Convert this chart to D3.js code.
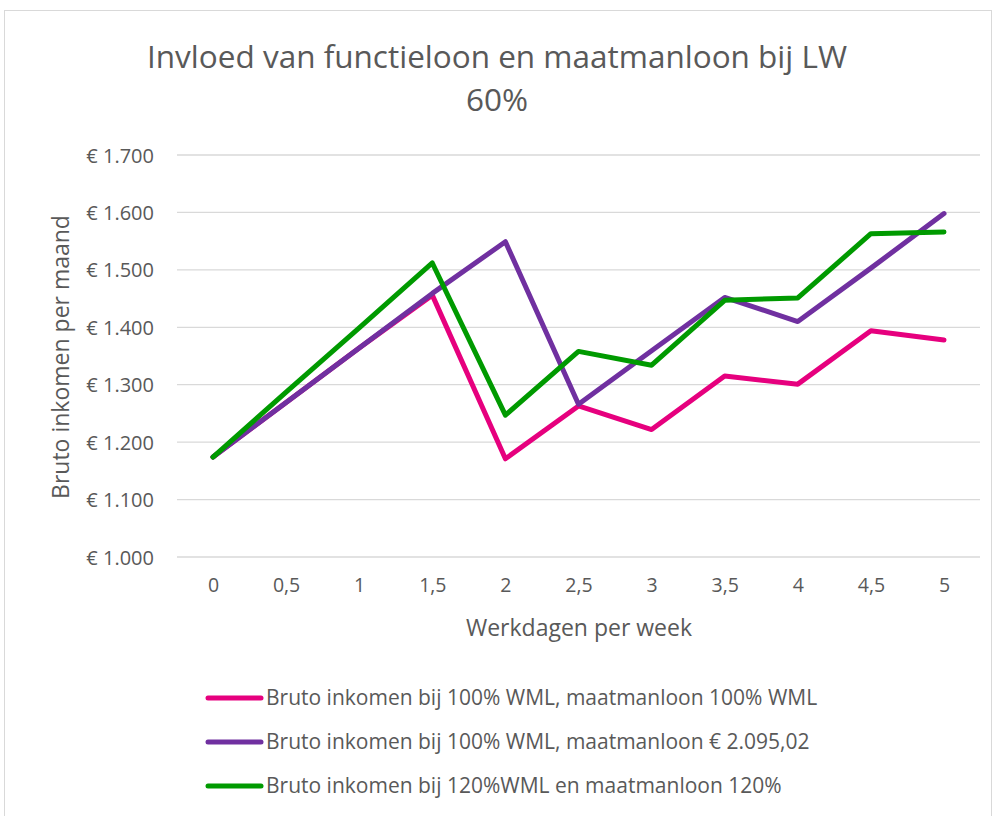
<!DOCTYPE html>
<html>
<head>
<meta charset="utf-8">
<script src="https://cdn.jsdelivr.net/npm/d3@7"></script>
<style>
  body { margin: 0; background: #fff; }
  svg text { font-family: "Open Sans", "Liberation Sans", sans-serif; }
  .grid line { stroke: #d9d9d9; stroke-width: 1.3; }
  .tick text { fill: #595959; }
</style>
</head>
<body>
<svg width="995" height="816"></svg>
<script>
var days = ["0", "0,5", "1", "1,5", "2", "2,5", "3", "3,5", "4", "4,5", "5"];
var pinkValues = [1174, 1269, 1364, 1456, 1171, 1263, 1222, 1315, 1301, 1394, 1378];
var purpleValues = [1174, 1269, 1364, 1459, 1549, 1266, 1359, 1452, 1410, 1503, 1598];
var greenValues = [1174, 1287, 1399, 1512, 1247, 1358, 1334, 1447, 1451, 1563, 1566];
var seriesNames = [
  "Bruto inkomen bij 100% WML, maatmanloon 100% WML",
  "Bruto inkomen bij 100% WML, maatmanloon € 2.095,02",
  "Bruto inkomen bij 120%WML en maatmanloon 120%"
];
var colors = ["#e6007e", "#7030a0", "#009a00"];
var yTicks = [1000, 1100, 1200, 1300, 1400, 1500, 1600, 1700];

var series = [pinkValues, purpleValues, greenValues].map(function(v, i) {
  return { name: seriesNames[i], color: colors[i], values: v };
});

var svg = d3.select("svg");

// chart frame
svg.append("rect")
  .attr("x", 4.5).attr("y", 10.5)
  .attr("width", 987).attr("height", 820)
  .attr("fill", "#fff").attr("stroke", "#d9d9d9");

var x = d3.scalePoint()
  .domain(days)
  .range([213, 944]);

var y = d3.scaleLinear()
  .domain([1000, 1700])
  .range([557, 155]);

var fmt = function(d) { return "€ " + d3.format(",")(d).replace(",", "."); };

// gridlines
svg.append("g")
  .attr("class", "grid")
  .selectAll("line")
  .data(yTicks)
  .enter().append("line")
  .attr("x1", 177).attr("x2", 980)
  .attr("y1", function(d) { return y(d); })
  .attr("y2", function(d) { return y(d); });

// y axis
var yAxis = svg.append("g")
  .attr("transform", "translate(160,0)")
  .call(d3.axisLeft(y).tickValues(yTicks).tickFormat(fmt).tickSize(0).tickPadding(0));
yAxis.select(".domain").remove();
yAxis.selectAll("text").style("font-size", "20px").attr("dy", "0.35em").attr("x", -6);

// x axis
var xAxis = svg.append("g")
  .attr("transform", "translate(0,557)")
  .call(d3.axisBottom(x).tickSize(0).tickPadding(0));
xAxis.select(".domain").remove();
xAxis.selectAll("text").style("font-size", "19.5px").attr("y", 35).attr("dy", "0");

// titles
var title = svg.append("text")
  .attr("text-anchor", "middle")
  .attr("fill", "#595959")
  .style("font-size", "31.5px");
title.append("tspan").attr("x", 497).attr("y", 68).text("Invloed van functieloon en maatmanloon bij LW");
title.append("tspan").attr("x", 497).attr("y", 111).text("60%");

svg.append("text")
  .attr("x", 579).attr("y", 636)
  .attr("text-anchor", "middle")
  .attr("fill", "#595959")
  .style("font-size", "23px")
  .text("Werkdagen per week");

svg.append("text")
  .attr("transform", "translate(69,357) rotate(-90)")
  .attr("text-anchor", "middle")
  .attr("fill", "#595959")
  .style("font-size", "23px")
  .text("Bruto inkomen per maand");

// lines
var line = d3.line()
  .x(function(d, i) { return x(days[i]); })
  .y(function(d) { return y(d); });

svg.selectAll(".series")
  .data(series)
  .enter().append("path")
  .attr("class", "series")
  .attr("d", function(d) { return line(d.values); })
  .attr("fill", "none")
  .attr("stroke", function(d) { return d.color; })
  .attr("stroke-width", 5)
  .attr("stroke-linejoin", "round")
  .attr("stroke-linecap", "round");

// legend
var legend = svg.selectAll(".legend")
  .data(series)
  .enter().append("g")
  .attr("class", "legend")
  .attr("transform", function(d, i) { return "translate(0," + (698 + i * 44) + ")"; });

legend.append("line")
  .attr("x1", 208).attr("x2", 261)
  .attr("y1", 0).attr("y2", 0)
  .attr("stroke", function(d) { return d.color; })
  .attr("stroke-width", 5)
  .attr("stroke-linecap", "round");

legend.append("text")
  .attr("x", 266).attr("y", 0).attr("dy", "0.35em")
  .attr("fill", "#595959")
  .style("font-size", "21px")
  .text(function(d) { return d.name; });
</script>
</body>
</html>
